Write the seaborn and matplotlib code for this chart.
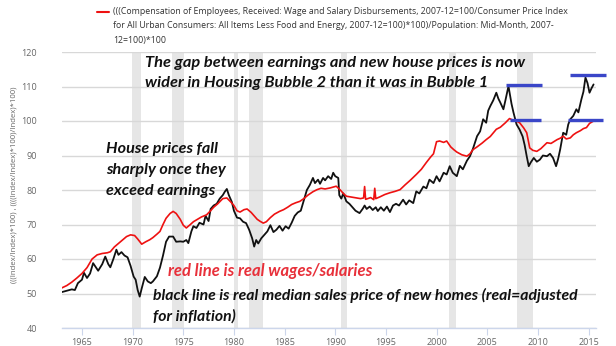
import matplotlib
matplotlib.use("Agg")
import matplotlib.pyplot as plt
import pandas as pd
import seaborn as sns

# ---- data ----
black_years = [1963.0, 1963.5, 1964.0, 1964.3, 1964.6, 1965.0, 1965.2, 1965.5, 1965.8, 1966.1,
               1966.4, 1966.6, 1967.0, 1967.3, 1967.6, 1967.8, 1968.1, 1968.4, 1968.6, 1968.9,
               1969.2, 1969.5, 1969.8, 1970.1, 1970.3, 1970.5, 1970.7, 1970.9, 1971.2, 1971.5,
               1971.8, 1972.0, 1972.4, 1972.7, 1973.0, 1973.3, 1973.6, 1974.0, 1974.3, 1974.7,
               1975.0, 1975.3, 1975.5, 1975.8, 1976.0, 1976.3, 1976.6, 1977.0, 1977.2, 1977.5,
               1977.7, 1978.0, 1978.3, 1978.6, 1978.9, 1979.1, 1979.3, 1979.5, 1979.8, 1980.0,
               1980.3, 1980.6, 1980.9, 1981.2, 1981.5, 1981.8, 1982.0, 1982.2, 1982.4, 1982.7,
               1983.0, 1983.3, 1983.6, 1983.9, 1984.2, 1984.5, 1984.8, 1985.1, 1985.4, 1985.7,
               1986.0, 1986.3, 1986.6, 1986.9, 1987.2, 1987.5, 1987.8, 1988.0, 1988.3, 1988.5,
               1988.8, 1989.0, 1989.3, 1989.6, 1989.8, 1990.0, 1990.3, 1990.4, 1990.6, 1990.8,
               1991.1, 1991.4, 1991.7, 1992.0, 1992.4, 1992.7, 1992.9, 1993.1, 1993.4, 1993.7,
               1994.0, 1994.2, 1994.5, 1994.8, 1995.1, 1995.4, 1995.7, 1996.0, 1996.3, 1996.7,
               1997.0, 1997.3, 1997.7, 1998.0, 1998.3, 1998.7, 1999.0, 1999.3, 1999.7, 2000.0,
               2000.3, 2000.7, 2001.0, 2001.3, 2001.6, 2002.0, 2002.3, 2002.6, 2003.0, 2003.3,
               2003.6, 2004.0, 2004.3, 2004.6, 2004.9, 2005.1, 2005.3, 2005.6, 2005.9, 2006.1,
               2006.3, 2006.6, 2006.8, 2007.1, 2007.4, 2007.6, 2007.9, 2008.2, 2008.5, 2008.7,
               2008.9, 2009.1, 2009.3, 2009.6, 2009.9, 2010.2, 2010.5, 2010.9, 2011.2, 2011.5,
               2011.8, 2012.0, 2012.2, 2012.5, 2012.8, 2013.0, 2013.2, 2013.5, 2013.8, 2014.0,
               2014.3, 2014.5, 2014.7, 2014.9, 2015.1, 2015.3, 2015.5]
black_values = [50.4, 50.8, 51.2, 51.0, 53.0, 54.0, 56.0, 54.5, 55.8, 58.8,
                57.5, 56.6, 58.5, 60.7, 58.5, 57.6, 60.0, 62.7, 61.2, 62.0,
                61.0, 60.5, 58.0, 54.9, 54.0, 51.0, 49.1, 51.5, 54.8, 53.5,
                53.0, 53.5, 55.0, 57.5, 61.0, 65.0, 66.5, 66.5, 65.0, 65.1,
                65.0, 65.5, 64.6, 68.0, 69.5, 69.0, 70.5, 70.0, 72.5, 71.0,
                74.5, 75.5, 76.0, 77.5, 78.5, 79.5, 80.3, 78.5, 76.5, 74.0,
                72.0, 71.8, 70.8, 70.4, 68.5, 66.0, 63.6, 65.5, 64.5, 66.0,
                67.0, 68.0, 69.8, 67.8, 68.5, 69.6, 68.2, 69.5, 68.8, 70.5,
                72.5, 73.5, 74.0, 77.0, 80.0, 81.5, 83.5, 82.0, 83.0, 81.8,
                83.5, 82.8, 84.0, 83.2, 85.0, 84.0, 83.5, 78.5, 77.5, 79.0,
                76.7, 76.0, 75.0, 74.0, 73.3, 74.5, 75.5, 74.5, 75.2, 74.2,
                75.0, 73.9, 75.0, 74.0, 75.2, 73.6, 75.5, 76.0, 75.5, 77.2,
                75.8, 77.0, 76.2, 79.6, 79.0, 81.0, 80.5, 83.0, 82.0, 84.0,
                82.5, 85.0, 84.5, 86.9, 85.0, 84.0, 87.0, 86.0, 88.5, 89.8,
                92.0, 95.6, 97.0, 100.5, 99.5, 103.0, 104.3, 106.0, 108.2, 106.5,
                105.3, 103.4, 106.0, 110.1, 105.0, 102.4, 99.0, 97.5, 95.5, 93.0,
                89.8, 86.9, 88.0, 89.3, 88.2, 88.8, 90.0, 89.8, 90.5, 89.3,
                86.9, 89.0, 91.7, 96.6, 96.0, 99.0, 100.5, 101.5, 103.4, 102.5,
                106.3, 108.5, 112.6, 111.0, 108.2, 109.5, 110.6]

red_years = [1963.0, 1963.5, 1964.0, 1964.5, 1965.0, 1965.5, 1966.0, 1966.5, 1967.0, 1967.5,
             1967.8, 1968.2, 1968.6, 1969.0, 1969.4, 1969.8, 1970.2, 1970.5, 1970.9, 1971.3,
             1971.7, 1972.0, 1972.4, 1972.7, 1973.0, 1973.3, 1973.7, 1974.0, 1974.3, 1974.7,
             1975.0, 1975.3, 1975.7, 1976.0, 1976.4, 1976.8, 1977.3, 1977.7, 1978.0, 1978.4,
             1978.9, 1979.3, 1979.7, 1980.0, 1980.3, 1980.6, 1981.0, 1981.3, 1981.7, 1982.0,
             1982.3, 1982.6, 1982.9, 1983.2, 1983.6, 1984.0, 1984.5, 1984.9, 1985.3, 1985.7,
             1986.1, 1986.5, 1986.9, 1987.3, 1987.8, 1988.2, 1988.6, 1989.0, 1989.5, 1990.1,
             1990.5, 1990.8, 1991.1, 1991.5, 1992.1, 1992.5, 1992.8, 1992.9, 1993.0, 1993.5,
             1993.8, 1993.9, 1994.0, 1994.4, 1994.9, 1995.4, 1995.9, 1996.4, 1996.9, 1997.4,
             1998.0, 1998.5, 1999.0, 1999.4, 1999.7, 2000.0, 2000.3, 2000.7, 2001.0, 2001.4,
             2001.7, 2002.0, 2002.5, 2003.0, 2003.3, 2003.6, 2004.0, 2004.5, 2004.9, 2005.3,
             2005.9, 2006.3, 2006.8, 2007.2, 2007.6, 2008.0, 2008.2, 2008.6, 2008.9, 2009.2,
             2009.5, 2009.9, 2010.3, 2010.9, 2011.3, 2011.9, 2012.2, 2012.5, 2012.8, 2013.2,
             2013.5, 2013.8, 2014.2, 2014.5, 2014.8, 2015.1, 2015.5]
red_values = [51.6, 52.3, 53.3, 54.5, 55.8, 57.5, 60.0, 61.2, 61.6, 61.8,
              62.1, 63.5, 64.5, 65.5, 66.5, 67.0, 66.8, 65.8, 64.3, 65.0,
              65.6, 66.2, 67.2, 68.0, 70.0, 71.8, 73.2, 73.8, 73.2, 71.5,
              69.8, 69.0, 70.0, 70.8, 71.5, 72.2, 72.8, 74.0, 75.0, 76.0,
              77.5, 77.7, 76.5, 75.5, 74.0, 73.6, 74.3, 74.5, 73.5, 72.5,
              71.5, 70.9, 70.4, 70.8, 72.0, 73.0, 73.8, 74.3, 75.0, 75.8,
              76.3, 76.7, 77.5, 78.5, 79.5, 80.1, 80.5, 80.3, 80.6, 81.1,
              80.0, 79.0, 78.2, 78.0, 77.7, 77.5, 77.7, 81.0, 77.3, 77.8,
              77.2, 80.5, 77.5, 78.0, 78.7, 79.2, 79.6, 80.1, 81.5, 82.8,
              84.5, 86.0, 88.0, 89.5, 90.5, 94.0, 94.2, 93.8, 94.2, 92.5,
              91.7, 91.0, 90.2, 89.8, 90.5, 91.7, 92.5, 93.6, 94.6, 95.5,
              97.6, 98.2, 99.5, 100.7, 100.2, 99.8, 99.5, 98.0, 96.6, 92.2,
              91.5, 91.2, 92.0, 93.7, 93.5, 94.6, 95.0, 95.6, 94.8, 95.1,
              96.0, 96.6, 97.2, 97.8, 98.1, 99.3, 100.0]

recession_starts = [1969.9, 1973.85, 1980.05, 1981.5, 1990.55, 2001.2, 2007.9]
recession_ends = [1970.85, 1975.05, 1980.45, 1982.85, 1991.15, 2001.9, 2009.5]

marker_levels = [110.3, 100.4, 113.2, 100.4]
marker_starts = [2006.9, 2007.3, 2013.2, 2013.0]
marker_ends = [2010.4, 2010.3, 2016.7, 2016.4]

x_ticks = [1965, 1970, 1975, 1980, 1985, 1990, 1995, 2000, 2005, 2010, 2015]
y_ticks = [40, 50, 60, 70, 80, 90, 100, 110, 120]

legend_lines = ["(((Compensation of Employees, Received: Wage and Salary Disbursements, 2007-12=100/Consumer Price Index",
                "for All Urban Consumers: All Items Less Food and Energy, 2007-12=100)*100)/Population: Mid-Month, 2007-",
                "12=100)*100"]
y_label = "(((Index/Index)*100) , ((((Index/Index)*100)/Index)*100)"

# ---- figure ----
sns.set_style("white")
W, H = 616, 346
fig = plt.figure(figsize=(W / 100, H / 100), dpi=100)
ax = fig.add_axes([62 / W, 1 - 328 / H, (596 - 62) / W, (328 - 52) / H])

for s, e in zip(recession_starts, recession_ends):
    ax.axvspan(s, e, color="#e6e6e6", lw=0, zorder=0)

black_df = pd.DataFrame({"year": black_years, "value": black_values})
red_df = pd.DataFrame({"year": red_years, "value": red_values})
sns.lineplot(data=black_df, x="year", y="value", color="#111111", lw=1.3, ax=ax, zorder=3)
sns.lineplot(data=red_df, x="year", y="value", color="#ee1111", lw=1.2, ax=ax, zorder=4)

for lv, s, e in zip(marker_levels, marker_starts, marker_ends):
    ax.plot([s, e], [lv, lv], color="#3a46c8", lw=2.4, solid_capstyle="butt",
            clip_on=False, zorder=6)

ax.set_xlim(1963.03, 2015.74)
ax.set_ylim(40, 120)
ax.set_xticks(x_ticks)
ax.set_yticks(y_ticks)
ax.set_xticklabels([str(t) for t in x_ticks])
ax.set_yticklabels([str(t) for t in y_ticks])
ax.grid(axis="y", color="#d8d8d8", lw=1.0, zorder=1)
ax.set_axisbelow(True)
for sp in ["top", "right", "left"]:
    ax.spines[sp].set_visible(False)
ax.spines["bottom"].set_color("#ccd6eb")
ax.spines["bottom"].set_linewidth(1.0)
ax.tick_params(axis="x", colors="#ccd6eb", length=5, width=0.8, direction="out",
               labelcolor="#666666", labelsize=6.5, pad=2, bottom=True)
ax.tick_params(axis="y", length=0, labelcolor="#666666", labelsize=6.5, pad=18)
ax.set_xlabel("")
ax.set_ylabel("")
for lab in ax.get_xticklabels() + ax.get_yticklabels():
    lab.set_fontfamily("Open Sans")

fig.text(14 / W, 1 - 185 / H, y_label, rotation=90, ha="center", va="center",
         fontsize=5.6, color="#666666", family="Open Sans")

# legend
fig.add_artist(plt.Line2D([97 / W, 109 / W], [1 - 12 / H, 1 - 12 / H],
                          color="#ee1111", lw=1.5))
for i, line in enumerate(legend_lines):
    fig.text(113 / W, 1 - (12 + 14 * i) / H, line, ha="left", va="center",
             fontsize=6.3, color="#333333", family="Open Sans")

# annotations
ann = dict(family="Lato", fontweight="bold", fontstyle="italic",
           ha="left", va="baseline")
fig.text(145 / W, 1 - 67 / H, "The gap between earnings and new house prices is now",
         color="#111111", fontsize=11.8, **ann)
fig.text(145 / W, 1 - 87 / H, "wider in Housing Bubble 2 than it was in Bubble 1",
         color="#111111", fontsize=11.8, **ann)
fig.text(106 / W, 1 - 153 / H, "House prices fall", color="#111111", fontsize=11.6, **ann)
fig.text(106 / W, 1 - 174 / H, "sharply once they", color="#111111", fontsize=11.6, **ann)
fig.text(106 / W, 1 - 195 / H, "exceed earnings", color="#111111", fontsize=11.6, **ann)
fig.text(168 / W, 1 - 276 / H, "red line is real wages/salaries", color="#e8303a",
         fontsize=12.0, **ann)
fig.text(153 / W, 1 - 300 / H,
         "black line is real median sales price of new homes (real=adjusted",
         color="#111111", fontsize=11.3, **ann)
fig.text(153 / W, 1 - 321 / H, "for inflation)", color="#111111", fontsize=11.3, **ann)

fig.savefig("out.png", dpi=100)
